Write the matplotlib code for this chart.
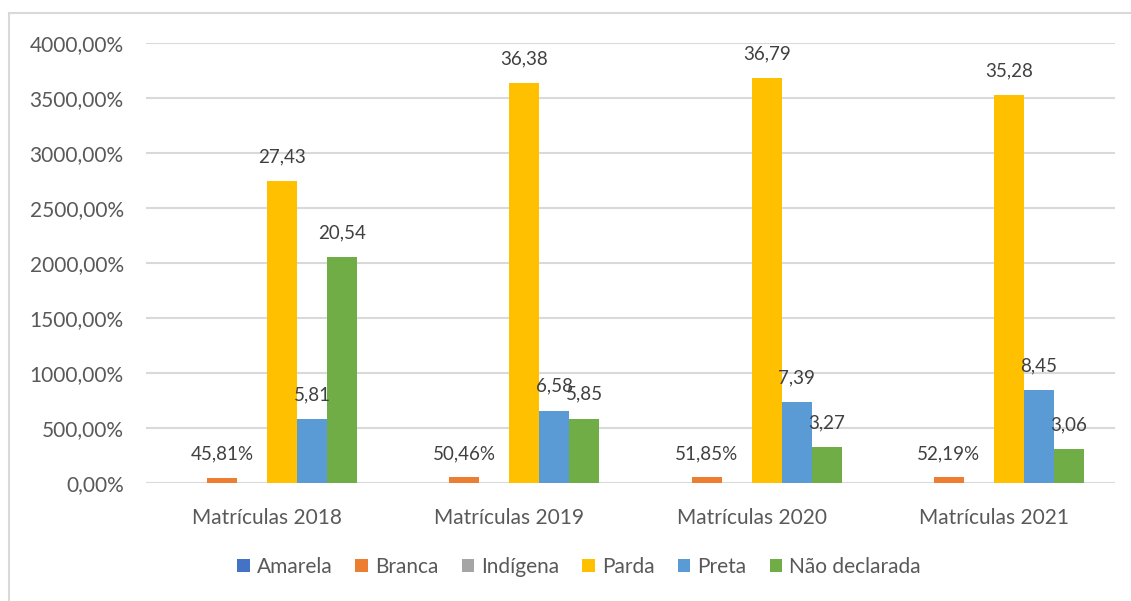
import matplotlib
matplotlib.use("Agg")
import matplotlib.pyplot as plt
from matplotlib.patches import Rectangle
import numpy as np

categories = ["Matrículas 2018", "Matrículas 2019", "Matrículas 2020", "Matrículas 2021"]
series_names = ["Amarela", "Branca", "Indígena", "Parda", "Preta", "Não declarada"]
amarela = [0.2, 0.2, 0.2, 0.2]
branca = [45.81, 50.46, 51.85, 52.19]
indigena = [0.3, 3.0, 0.5, 3.0]
parda = [2743, 3638, 3679, 3528]
preta = [581, 658, 739, 845]
nao_declarada = [2054, 585, 327, 306]
yticks = [0, 500, 1000, 1500, 2000, 2500, 3000, 3500, 4000]

colors = ["#4472C4", "#ED7D31", "#A5A5A5", "#FFC000", "#5B9BD5", "#70AD47"]
all_series = [amarela, branca, indigena, parda, preta, nao_declarada]

plt.rcParams['font.family'] = ['Lato', 'DejaVu Sans']

W, H = 1131, 601
fig = plt.figure(figsize=(W / 100, H / 100), dpi=100)
ax = fig.add_axes([146 / W, 1 - 483 / H, (1115 - 146) / W, (483 - 43) / H])

x = np.arange(len(categories))
bw = 0.124
offsets = (np.arange(6) - 2.5) * bw
bars = []
for i, (vals, c, name) in enumerate(zip(all_series, colors, series_names)):
    b = ax.bar(x + offsets[i], vals, width=bw, color=c, label=name, zorder=3)
    bars.append(b)

lab_color = "#404040"
fs_lab = 13.5
fs = 15
def fmt(v):
    return f"{v:.2f}".replace(".", ",")

for j in range(len(categories)):
    ax.annotate(fmt(branca[j]) + "%", (x[j] + offsets[1], branca[j]), xytext=(0, 17),
                textcoords="offset points", ha="center", va="center", fontsize=fs_lab, color=lab_color)
    for vals, k in ((parda, 3), (preta, 4), (nao_declarada, 5)):
        ax.annotate(fmt(vals[j] / 100), (x[j] + offsets[k], vals[j]), xytext=(0, 17.5),
                    textcoords="offset points", ha="center", va="center", fontsize=fs_lab, color=lab_color)

ax.set_xlim(-0.5, 3.5)
ax.set_ylim(0, 4000)
ax.set_yticks(yticks)
ax.set_yticklabels([f"{v},00%" for v in yticks])
ax.set_xticks(x)
ax.set_xticklabels(categories)
ax.tick_params(axis="y", length=0, pad=16, labelsize=fs, labelcolor="#595959")
ax.tick_params(axis="x", length=0, pad=18, labelsize=fs, labelcolor="#595959")
ax.grid(axis="y", color="#d9d9d9", linewidth=1.5, zorder=0)
ax.set_axisbelow(True)
for s in ax.spines.values():
    s.set_visible(False)

leg = fig.legend(handles=bars, labels=series_names, loc="center", bbox_to_anchor=(579 / W, 1 - 567 / H),
                 ncol=6, frameon=False, fontsize=fs, handlelength=0.6, handleheight=0.6,
                 handletextpad=0.35, columnspacing=1.1, labelcolor="#595959")

fig.patches.append(Rectangle((9 / W, -0.1), 1.2, 1 - 13 / H + 0.1, transform=fig.transFigure,
                             fill=False, edgecolor="#d9d9d9", linewidth=1.5))

fig.savefig("out.png", dpi=100, facecolor="white")
